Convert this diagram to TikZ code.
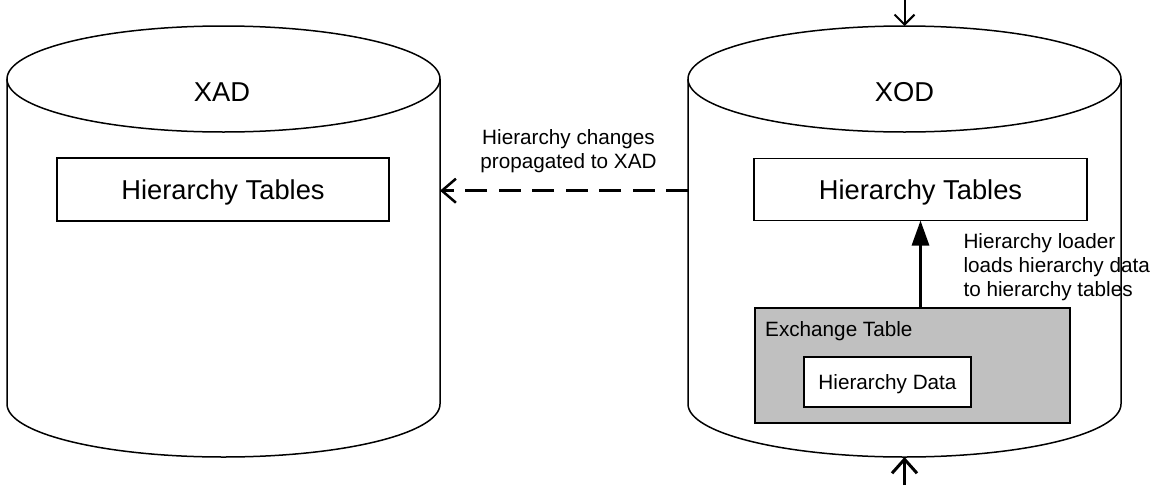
\documentclass[tikz,border=0pt]{standalone}
\usepackage{fontspec}
\setmainfont{Liberation Sans}
\usetikzlibrary{arrows.meta}
\definecolor{exgray}{HTML}{C0C0C0}
\begin{document}
\begin{tikzpicture}[x=1pt,y=1pt,
  cyl/.style={line width=1.5pt},
  body/.style={draw=none, inner sep=0pt, outer sep=0pt, minimum width=433pt, minimum height=431pt},
  big/.style={font=\fontsize{27.3}{31}\selectfont},
  small/.style={font=\fontsize{20.7}{24}\selectfont},
  tbox/.style={draw, line width=1.5pt, fill=white, inner sep=0pt, outer sep=0pt, big, text height=19.5pt, text depth=0pt},
  dbox/.style={draw, line width=1.5pt, fill=white, inner sep=0pt, outer sep=0pt, small, text height=14.8pt, text depth=0pt},
  exbox/.style={draw, line width=1.5pt, fill=exgray, inner sep=0pt, outer sep=0pt},
  dasharrow/.style={line width=3.5pt, dash pattern=on 22pt off 11.5pt, -{Straight Barb[length=14pt,width=24pt,line width=2.5pt]}},
  loadarrow/.style={line width=3pt, -{Triangle[length=25pt,width=17pt]}},
  inarrow/.style={line width=3pt, -{Straight Barb[length=14pt,width=25pt]}},
  toparrow/.style={line width=2pt, -{Straight Barb[length=10pt,width=20pt]}},
]
\useasboundingbox (0,0) rectangle (1159,-485);

% cylinders
\draw[cyl] (7,-79) -- (7,-404) arc[start angle=180,end angle=360,x radius=216.5,y radius=53] -- (440,-79);
\draw[cyl] (223.5,-79) ellipse[x radius=216.5, y radius=53];
\draw[cyl] (688,-79) -- (688,-404) arc[start angle=180,end angle=360,x radius=216.5,y radius=53] -- (1121,-79);
\draw[cyl] (904.5,-79) ellipse[x radius=216.5, y radius=53];

\node[body] (xad) at (223.5,-241.5) {};
\node[body] (xod) at (904.5,-241.5) {};

\node[big, anchor=base] (xadt) at (222,-101) {XAD};
\node[big, anchor=base] (xodt) at (904.5,-101) {XOD};

% boxes
\node[tbox, minimum width=332pt, minimum height=63pt] (ht1) at (223,-189.5) {Hierarchy Tables};
\node[tbox, minimum width=333pt, minimum height=62pt] (ht2) at (920.5,-189.5) {Hierarchy Tables};
\node[exbox, minimum width=315pt, minimum height=115pt] (ex) at (912.5,-365.5) {};
\node[small, anchor=base west, inner sep=0pt] (ext) at (765,-336.7) {Exchange Table};
\node[dbox, minimum width=167pt, minimum height=50pt] (hd) at (887.5,-382) {Hierarchy Data};

% labels
\node[small, align=center, anchor=north, inner sep=0pt] (lab1) at (568.5,-129) {Hierarchy changes\\propagated to XAD};
\node[small, align=left, anchor=north west, inner sep=0pt] (lab2) at (963.3,-233.3) {Hierarchy loader\\loads hierarchy data\\to hierarchy tables};

% connectors
\draw[dasharrow] (xod.west |- 0,-190.7) -- (xad.east |- 0,-190.7);
\draw[loadarrow] (ex.north -| ht2.south) -- (ht2.south);
\coordinate (topin) at (904.5,0);
\coordinate (botin) at (904.5,-485);
\draw[toparrow] (topin) -- (xod.north);
\draw[inarrow] (botin) -- (xod.south);
\end{tikzpicture}
\end{document}
